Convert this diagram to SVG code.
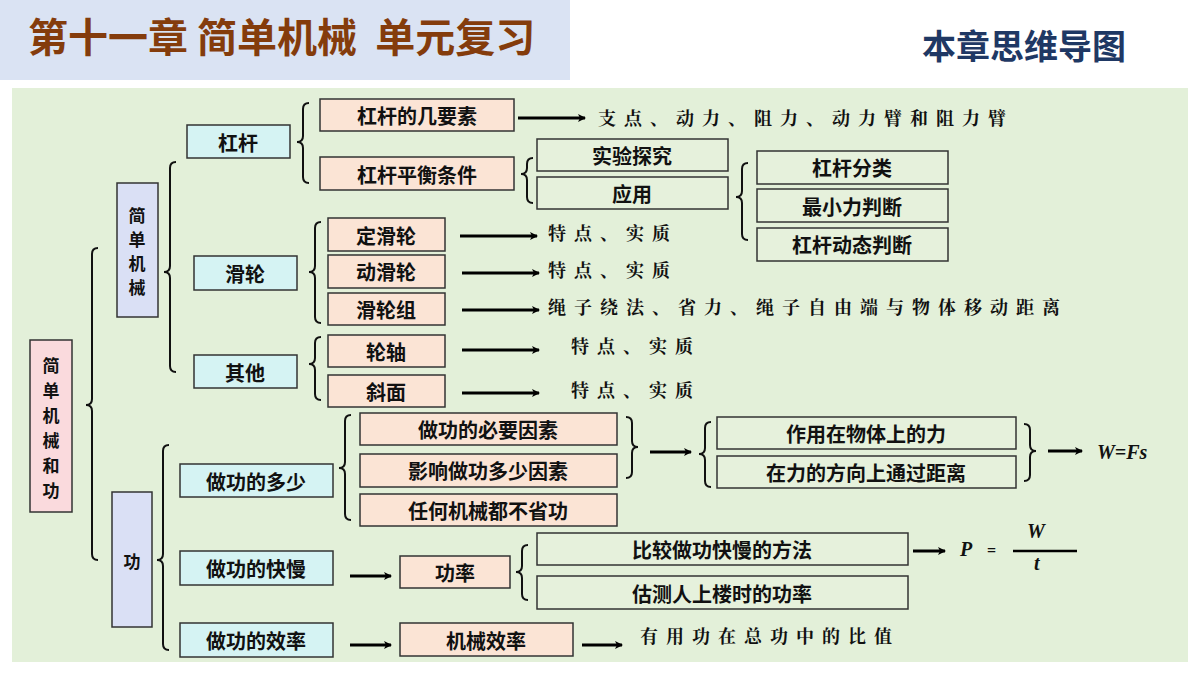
<svg xmlns="http://www.w3.org/2000/svg" width="1200" height="675" viewBox="0 0 1200 675">
<defs>
<marker id="ah" markerWidth="8" markerHeight="8" refX="7" refY="4" orient="auto" markerUnits="userSpaceOnUse" viewBox="0 0 8 8">
<path d="M0,0 L8,4 L0,8 L2,4 Z" fill="#000"/>
</marker>
</defs>
<style>
text{font-family:"Noto Sans CJK SC",sans-serif;font-weight:bold;fill:#111}
.t{font-size:20px;text-anchor:middle;dominant-baseline:central}
.v{font-size:17px;text-anchor:middle;dominant-baseline:central}
.k{font-family:"Noto Serif CJK SC","Noto Sans CJK SC",serif;font-size:18px;letter-spacing:8px}
.pk{fill:#fbe4d5;stroke:#333;stroke-width:1.5}
.cy{fill:#d5f3f3;stroke:#333;stroke-width:1.5}
.lv{fill:#dae0f5;stroke:#333;stroke-width:1.5}
.rt{fill:#fadadd;stroke:#333;stroke-width:1.5}
.gr{fill:#e6f1dc;stroke:#333;stroke-width:1.5}
.br{fill:none;stroke:#111;stroke-width:2}
.ar{stroke:#000;stroke-width:3;marker-end:url(#ah)}
.m{font-family:"Liberation Serif",serif;font-style:italic;font-weight:bold;font-size:20px}
</style>
<rect width="1200" height="675" fill="#fff"/>
<rect x="0" y="0" width="570" height="80" fill="#dae3f3"/>
<text x="28" y="52" style="font-size:40px;fill:#843c0c;white-space:pre">第十一章 简单机械  单元复习</text>
<text x="922" y="59" style="font-size:34px;fill:#1f3864">本章思维导图</text>
<rect x="12" y="88" width="1176" height="574" fill="#e3f0d9"/>
<g id="connectors">
<path class="br" d="M98,248 q-6,0 -6,6 v145 q0,6 -6,6 q6,0 6,6 v143 q0,6 6,6"/>
<path class="br" d="M176,162 q-6,0 -6,6 v98 q0,6 -6,6 q6,0 6,6 v88 q0,6 6,6"/>
<path class="br" d="M309,103 q-6,0 -6,6 v27 q0,6 -6,6 q6,0 6,6 v29 q0,6 6,6"/>
<path class="br" d="M533,158 q-6,0 -6,6 v4 q0,6 -6,6 q6,0 6,6 v17 q0,6 6,6"/>
<path class="br" d="M748,163 q-6,0 -6,6 v22 q0,6 -6,6 q6,0 6,6 v31 q0,6 6,6"/>
<path class="br" d="M321,222 q-6,0 -6,6 v38 q0,6 -6,6 q6,0 6,6 v39 q0,6 6,6"/>
<path class="br" d="M321,337 q-6,0 -6,6 v15 q0,6 -6,6 q6,0 6,6 v24 q0,6 6,6"/>
<path class="br" d="M169,445 q-6,0 -6,6 v103 q0,6 -6,6 q6,0 6,6 v78 q0,6 6,6"/>
<path class="br" d="M351,415 q-6,0 -6,6 v41 q0,6 -6,6 q6,0 6,6 v40 q0,6 6,6"/>
<path class="br" d="M626,417 q6,0 6,6 v18 q0,6 6,6 q-6,0 -6,6 v19 q0,6 -6,6"/>
<path class="br" d="M711,422 q-6,0 -6,6 v20 q0,6 -6,6 q6,0 6,6 v21 q0,6 6,6"/>
<path class="br" d="M1024,424 q6,0 6,6 v15 q0,6 6,6 q-6,0 -6,6 v18 q0,6 -6,6"/>
<path class="br" d="M528,545 q-6,0 -6,6 v15 q0,6 -6,6 q6,0 6,6 v16 q0,6 6,6"/>
<line class="ar" x1="518" y1="118" x2="585" y2="118"/>
<line class="ar" x1="460" y1="236" x2="537" y2="236"/>
<line class="ar" x1="462" y1="273" x2="539" y2="273"/>
<line class="ar" x1="462" y1="310" x2="539" y2="310"/>
<line class="ar" x1="462" y1="350" x2="539" y2="350"/>
<line class="ar" x1="462" y1="393" x2="539" y2="393"/>
<line class="ar" x1="650" y1="452" x2="691" y2="452"/>
<line class="ar" x1="1048" y1="451" x2="1082" y2="451"/>
<line class="ar" x1="350" y1="576" x2="391" y2="576"/>
<line class="ar" x1="913" y1="551" x2="945" y2="551"/>
<line class="ar" x1="350" y1="645" x2="391" y2="645"/>
<line class="ar" x1="582" y1="645" x2="622" y2="645"/>
</g>
<g id="n-root"><rect class="rt" x="30" y="340" width="42" height="172"/>
<text class="v" x="51" y="364">简</text><text class="v" x="51" y="389">单</text><text class="v" x="51" y="414">机</text><text class="v" x="51" y="439">械</text><text class="v" x="51" y="464">和</text><text class="v" x="51" y="489">功</text></g>
<g id="n-jdjx"><rect class="lv" x="117" y="183" width="41" height="134"/>
<text class="v" x="137" y="214">简</text><text class="v" x="137" y="238">单</text><text class="v" x="137" y="262">机</text><text class="v" x="137" y="286">械</text></g>
<g id="n-gong"><rect class="lv" x="112" y="492" width="40" height="135"/><text class="v" x="132" y="560">功</text></g>
<g id="n-gg"><rect class="cy" x="187" y="125" width="103" height="33"/><text class="t" x="238" y="142">杠杆</text></g>
<g id="n-hl"><rect class="cy" x="194" y="256" width="103" height="34"/><text class="t" x="245" y="273">滑轮</text></g>
<g id="n-qt"><rect class="cy" x="194" y="355" width="103" height="33"/><text class="t" x="245" y="372">其他</text></g>
<g id="n-ggjys"><rect class="pk" x="320" y="99" width="194" height="32"/><text class="t" x="417" y="115">杠杆的几要素</text></g>
<g id="n-ggph"><rect class="pk" x="320" y="157" width="194" height="33"/><text class="t" x="417" y="174">杠杆平衡条件</text></g>
<g id="n-syt"><rect class="gr" x="537" y="139" width="191" height="32"/><text class="t" x="632" y="155">实验探究</text></g>
<g id="n-yy"><rect class="gr" x="537" y="177" width="191" height="32"/><text class="t" x="632" y="193">应用</text></g>
<g id="n-ggfl"><rect class="gr" x="757" y="151" width="191" height="33"/><text class="t" x="852" y="167">杠杆分类</text></g>
<g id="n-zxl"><rect class="gr" x="757" y="189" width="191" height="33"/><text class="t" x="852" y="206">最小力判断</text></g>
<g id="n-ggdt"><rect class="gr" x="757" y="228" width="191" height="33"/><text class="t" x="852" y="244">杠杆动态判断</text></g>
<g id="n-dhl"><rect class="pk" x="328" y="218" width="117" height="33"/><text class="t" x="386" y="235">定滑轮</text></g>
<g id="n-dhl2"><rect class="pk" x="328" y="255" width="117" height="33"/><text class="t" x="386" y="271">动滑轮</text></g>
<g id="n-hlz"><rect class="pk" x="328" y="293" width="117" height="32"/><text class="t" x="386" y="309">滑轮组</text></g>
<g id="n-lz"><rect class="pk" x="328" y="335" width="117" height="32"/><text class="t" x="386" y="351">轮轴</text></g>
<g id="n-xm"><rect class="pk" x="328" y="375" width="117" height="32"/><text class="t" x="386" y="391">斜面</text></g>
<g id="labels">
<text class="k" x="598" y="125">支点、动力、阻力、动力臂和阻力臂</text>
<text class="k" x="548" y="240">特点、实质</text>
<text class="k" x="548" y="277">特点、实质</text>
<text class="k" x="548" y="314">绳子绕法、省力、绳子自由端与物体移动距离</text>
<text class="k" x="571" y="353">特点、实质</text>
<text class="k" x="571" y="397">特点、实质</text>
<text class="k" x="640" y="643">有用功在总功中的比值</text>
<text class="m" x="1097" y="459">W=Fs</text>
<text class="m" x="960" y="556">P</text><text class="m" x="987" y="556" style="font-style:normal;font-size:16px">=</text>
<text class="m" x="1027" y="538">W</text>
<line x1="1013" y1="551" x2="1077" y2="551" stroke="#000" stroke-width="2.5"/>
<text class="m" x="1034" y="570">t</text>
</g>
<g id="n-zgdl"><rect class="cy" x="180" y="464" width="153" height="33"/><text class="t" x="256" y="481">做功的多少</text></g>
<g id="n-zgkm"><rect class="cy" x="180" y="551" width="153" height="34"/><text class="t" x="256" y="568">做功的快慢</text></g>
<g id="n-zgxl"><rect class="cy" x="180" y="623" width="153" height="34"/><text class="t" x="256" y="640">做功的效率</text></g>
<g id="n-byys"><rect class="pk" x="360" y="413" width="257" height="32"/><text class="t" x="488" y="429">做功的必要因素</text></g>
<g id="n-yxys"><rect class="pk" x="360" y="454" width="257" height="33"/><text class="t" x="488" y="470">影响做功多少因素</text></g>
<g id="n-rhjx"><rect class="pk" x="360" y="494" width="257" height="32"/><text class="t" x="488" y="510">任何机械都不省功</text></g>
<g id="n-zyzw"><rect class="gr" x="717" y="417" width="299" height="32"/><text class="t" x="866" y="433">作用在物体上的力</text></g>
<g id="n-zlfx"><rect class="gr" x="717" y="456" width="299" height="32"/><text class="t" x="866" y="472">在力的方向上通过距离</text></g>
<g id="n-gl"><rect class="pk" x="400" y="556" width="110" height="32"/><text class="t" x="455" y="572">功率</text></g>
<g id="n-bjzg"><rect class="gr" x="537" y="533" width="371" height="32"/><text class="t" x="722" y="549">比较做功快慢的方法</text></g>
<g id="n-gcr"><rect class="gr" x="537" y="576" width="371" height="33"/><text class="t" x="722" y="593">估测人上楼时的功率</text></g>
<g id="n-jxxl"><rect class="pk" x="400" y="623" width="173" height="33"/><text class="t" x="486" y="640">机械效率</text></g>
</svg>
